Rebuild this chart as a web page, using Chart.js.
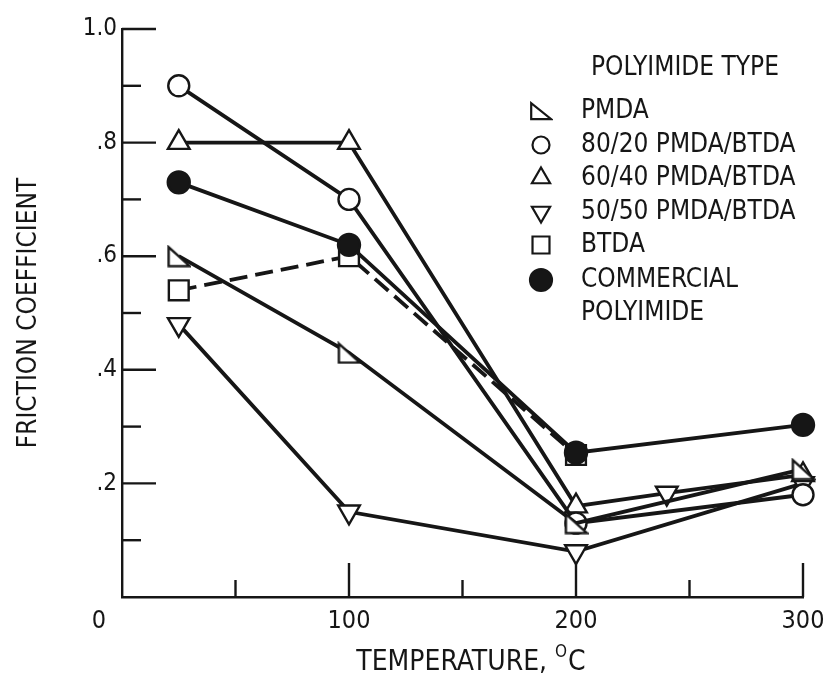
<!DOCTYPE html>
<html><head><meta charset="utf-8">
<script src="https://cdn.jsdelivr.net/npm/chart.js@4/dist/chart.umd.min.js"></script>
<style>html,body{margin:0;padding:0;background:#fff;}#wrap{width:823px;height:682px;position:relative;}</style>
</head><body><div id="wrap"><canvas id="c" width="823" height="682"></canvas></div>
<script>
// ---- data ----
const temps = [25, 100, 200, 300];
const temps6040 = [25, 100, 200, 240, 300];
const tempsBtda = [25, 100, 200];
const pmda = [0.60, 0.43, 0.13, 0.225];
const pmdaBtda8020 = [0.90, 0.70, 0.13, 0.18];
const pmdaBtda6040 = [0.80, 0.80, 0.16, 0.183, 0.215];
const pmdaBtda5050 = [0.48, 0.15, 0.08, 0.20];
const btda = [0.54, 0.60, 0.25];
const commercial = [0.73, 0.62, 0.254, 0.303];
const seriesLabels = ['PMDA', '80/20 PMDA/BTDA', '60/40 PMDA/BTDA', '50/50 PMDA/BTDA', 'BTDA', 'COMMERCIAL POLYIMIDE'];
const legendTitle = 'POLYIMIDE TYPE';
const xTickValues = [100, 200, 300];
const xTickLabels = ['100', '200', '300'];
const yTickValues = [0.2, 0.4, 0.6, 0.8, 1.0];
const yTickLabels = ['.2', '.4', '.6', '.8', '1.0'];
const originLabel = '0';
const xTitle = 'TEMPERATURE, ';
const xTitleSup = 'O';
const xTitleUnit = 'C';
const yTitle = 'FRICTION COEFFICIENT';

const INK = '#161616';
const FONT = '"Liberation Sans Narrow", "DejaVu Sans Condensed", "Arial Narrow", sans-serif';

function makeRightTriangle(w, h, lw) {
  const c = document.createElement('canvas');
  c.width = w + lw * 2; c.height = h + lw * 2;
  const g = c.getContext('2d');
  g.beginPath(); g.moveTo(lw, lw); g.lineTo(lw, lw + h); g.lineTo(lw + w, lw + h); g.closePath();
  g.fillStyle = '#fff'; g.fill(); g.lineWidth = lw; g.strokeStyle = INK; g.lineJoin = 'miter'; g.stroke();
  return c;
}
const rightTri = makeRightTriangle(21, 19, 2.4);
const rightTriLegend = makeRightTriangle(20, 16, 2.2);

const pts = (xs, ys) => xs.map((x, i) => ({x: x, y: ys[i]}));
const base = {borderColor: INK, borderWidth: 3.8, pointBorderColor: INK, pointBackgroundColor: '#fff',
  pointBorderWidth: 2.4, tension: 0, fill: false, clip: false, order: 0};

const datasets = [
  Object.assign({}, base, {label: seriesLabels[0], data: pts(temps, pmda), pointStyle: rightTri, pointRadius: 12}),
  Object.assign({}, base, {label: seriesLabels[1], data: pts(temps, pmdaBtda8020), pointStyle: 'circle', pointRadius: 10.5}),
  Object.assign({}, base, {label: seriesLabels[2], data: pts(temps6040, pmdaBtda6040),
    pointStyle: 'triangle', pointRadius: 12.5, pointRotation: [0, 0, 0, 180, 0]}),
  Object.assign({}, base, {label: seriesLabels[3], data: pts(temps, pmdaBtda5050), pointStyle: 'triangle', pointRadius: 12.5, pointRotation: 180}),
  Object.assign({}, base, {label: seriesLabels[4], data: pts(tempsBtda, btda), pointStyle: 'rect', pointRadius: 14, borderDash: [18, 8], order: 1}),
  Object.assign({}, base, {label: seriesLabels[5], data: pts(temps, commercial), pointStyle: 'circle', pointRadius: 11, pointBackgroundColor: INK}),
];

const decor = {
  id: 'decor',
  afterDraw(chart) {
    const ctx = chart.ctx, xs = chart.scales.x, ys = chart.scales.y, a = chart.chartArea;
    ctx.save();
    ctx.strokeStyle = INK; ctx.lineWidth = 2.4; ctx.lineCap = 'butt';
    // inward tick marks
    for (let k = 1; k <= 10; k++) {
      const v = k / 10, py = ys.getPixelForValue(v), len = (k % 2 === 0) ? 34 : 19;
      ctx.beginPath(); ctx.moveTo(a.left, py); ctx.lineTo(a.left + len, py); ctx.stroke();
    }
    for (let k = 1; k <= 6; k++) {
      const v = k * 50, px = xs.getPixelForValue(v), len = (k % 2 === 0) ? 34 : 17;
      ctx.beginPath(); ctx.moveTo(px, a.bottom); ctx.lineTo(px, a.bottom - len); ctx.stroke();
    }
    ctx.fillStyle = INK;
    // origin label
    ctx.font = '25px ' + FONT; ctx.textAlign = 'center'; ctx.textBaseline = 'middle';
    ctx.fillText(originLabel, a.left - 23, a.bottom + 24);
    // x title with superscript
    ctx.font = '28px ' + FONT;
    const w1 = ctx.measureText(xTitle).width;
    ctx.font = '17px ' + FONT;
    const w2 = ctx.measureText(xTitleSup).width;
    ctx.font = '28px ' + FONT;
    const w3 = ctx.measureText(xTitleUnit).width;
    let tx = (a.left + a.right) / 2 - (w1 + w2 + w3) / 2 + 8, ty = 660;
    ctx.textAlign = 'left'; ctx.textBaseline = 'alphabetic';
    ctx.fillText(xTitle, tx, ty + 10);
    ctx.font = '17px ' + FONT; ctx.fillText(xTitleSup, tx + w1, ty - 3);
    ctx.font = '28px ' + FONT; ctx.fillText(xTitleUnit, tx + w1 + w2 + 1, ty + 10);
    // y title
    ctx.save(); ctx.translate(29, (a.top + a.bottom) / 2); ctx.rotate(-Math.PI / 2);
    ctx.textAlign = 'center'; ctx.textBaseline = 'middle'; ctx.font = '26px ' + FONT;
    ctx.fillText(yTitle, 0, 0); ctx.restore();
    // legend
    ctx.font = '26px ' + FONT; ctx.textAlign = 'left'; ctx.textBaseline = 'middle';
    ctx.fillText(legendTitle, 591, 68);
    const rowsY = [111, 145, 178, 212, 245, 280];
    const styles = [
      {pointStyle: rightTriLegend, radius: 9},
      {pointStyle: 'circle', radius: 8.5},
      {pointStyle: 'triangle', radius: 10.5},
      {pointStyle: 'triangle', radius: 10.5, rotation: 180},
      {pointStyle: 'rect', radius: 12},
      {pointStyle: 'circle', radius: 11},
    ];
    seriesLabels.forEach((lab, i) => {
      const st = styles[i];
      ctx.save();
      ctx.lineWidth = 2.2; ctx.strokeStyle = INK;
      ctx.fillStyle = i === 5 ? INK : '#fff';
      Chart.helpers.drawPoint(ctx, {pointStyle: st.pointStyle, radius: st.radius, rotation: st.rotation || 0, borderWidth: 2.2}, 541, rowsY[i]);
      ctx.restore();
      ctx.fillStyle = INK;
      if (i === 5) {
        const parts = lab.split(' ');
        ctx.fillText(parts[0], 581, rowsY[i]);
        ctx.fillText(parts[1], 581, rowsY[i] + 33);
      } else {
        ctx.fillText(lab, 581, rowsY[i]);
      }
    });
    ctx.restore();
  }
};

new Chart(document.getElementById('c'), {
  type: 'line',
  data: {datasets: datasets},
  options: {
    responsive: false, animation: false, devicePixelRatio: 1,
    layout: {padding: {left: 0, right: 20, top: 29, bottom: 0}},
    plugins: {legend: {display: false}, tooltip: {enabled: false}},
    scales: {
      x: {type: 'linear', min: 0, max: 300,
        afterFit: s => { s.height = 85; s.paddingRight = 0; s.paddingLeft = 0; },
        afterBuildTicks: s => { s.ticks = xTickValues.map(v => ({value: v})); },
        ticks: {color: INK, font: {family: FONT, size: 25}, padding: 9, maxRotation: 0, autoSkip: false,
          callback: (v) => { const i = xTickValues.indexOf(v); return i >= 0 ? xTickLabels[i] : ''; }},
        grid: {display: false, drawTicks: false},
        border: {display: true, color: INK, width: 2.4}},
      y: {type: 'linear', min: 0, max: 1.0,
        afterFit: s => { s.width = 122; s.paddingTop = 0; s.paddingBottom = 0; },
        afterBuildTicks: s => { s.ticks = yTickValues.map(v => ({value: v})); },
        ticks: {color: INK, font: {family: FONT, size: 24}, padding: 5, autoSkip: false,
          callback: (v) => { const i = yTickValues.findIndex(t => Math.abs(t - v) < 1e-9); return i >= 0 ? yTickLabels[i] : ''; }},
        grid: {display: false, drawTicks: false},
        border: {display: true, color: INK, width: 2.4}}
    }
  },
  plugins: [decor]
});
</script></body></html>
